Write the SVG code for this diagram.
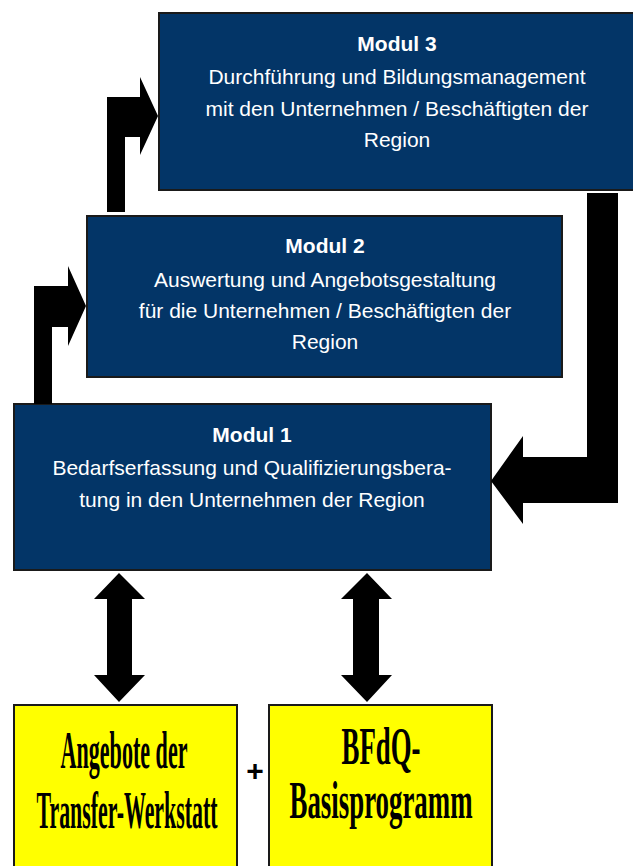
<svg xmlns="http://www.w3.org/2000/svg" width="633" height="866" viewBox="0 0 633 866">
<style>
.box{fill:#033567;stroke:#1a1a1a;stroke-width:2}
.ybox{fill:#ffff00;stroke:#1a1a1a;stroke-width:2}
.t{font-family:"Liberation Sans",Arial,sans-serif;font-size:21px;fill:#ffffff;text-anchor:middle}
.tb{font-weight:bold}
.y{font-family:"Liberation Serif","Times New Roman",serif;font-weight:bold;font-size:52px;fill:#000;text-anchor:middle}
.arr{fill:#000}
</style>
<rect width="633" height="866" fill="#ffffff"/>
<g id="modul3">
<rect class="box" x="159" y="13" width="478" height="177"/>
<text class="t tb" x="397" y="51">Modul 3</text>
<text class="t" x="397" y="84">Durchführung und Bildungsmanagement</text>
<text class="t" x="397" y="116">mit den Unternehmen / Beschäftigten der</text>
<text class="t" x="397" y="147">Region</text>
</g>
<g id="modul2">
<rect class="box" x="87" y="216" width="475" height="161"/>
<text class="t tb" x="325" y="253">Modul 2</text>
<text class="t" x="325" y="287">Auswertung und Angebotsgestaltung</text>
<text class="t" x="325" y="318">für die Unternehmen / Beschäftigten der</text>
<text class="t" x="325" y="349">Region</text>
</g>
<g id="modul1">
<rect class="box" x="14" y="404" width="477" height="166"/>
<text class="t tb" x="252" y="442">Modul 1</text>
<text class="t" x="252" y="475">Bedarfserfassung und Qualifizierungsbera-</text>
<text class="t" x="252" y="507">tung in den Unternehmen der Region</text>
</g>
<g id="transfer">
<rect class="ybox" x="14" y="705" width="223" height="170"/>
<text class="y" transform="translate(124,768) scale(0.5,1)" textLength="254" lengthAdjust="spacingAndGlyphs">Angebote der</text>
<text class="y" transform="translate(127,828) scale(0.5,1)" textLength="362" lengthAdjust="spacingAndGlyphs">Transfer-Werkstatt</text>
</g>
<g id="bfdq">
<rect class="ybox" x="269" y="705" width="223" height="170"/>
<text class="y" transform="translate(381,764) scale(0.5,1)" textLength="158" lengthAdjust="spacingAndGlyphs">BFdQ-</text>
<text class="y" transform="translate(381,818) scale(0.5,1)" textLength="366" lengthAdjust="spacingAndGlyphs">Basisprogramm</text>
</g>
<g id="plus">
<text x="255" y="781" font-family="Liberation Sans,Arial,sans-serif" font-weight="bold" font-size="30" text-anchor="middle" fill="#000">+</text>
</g>
<g id="connectors">
<polygon class="arr" points="107,212 107,97 140,97 140,77 158,116 140,155 140,137 125,137 125,212"/>
<polygon class="arr" points="34,404 34,286 68,286 68,266 86,306 68,346 68,327 52,327 52,404"/>
<polygon class="arr" points="587,193 618,193 618,503 523,503 523,524 491,481 523,436 523,457 587,457"/>
<polygon class="arr" points="119,573 145,599 132,599 132,675 145,675 119,702 94,675 107,675 107,599 94,599"/>
<polygon class="arr" points="367,573 392,599 379,599 379,675 392,675 367,702 341,675 353,675 353,599 341,599"/>
</g>
</svg>
